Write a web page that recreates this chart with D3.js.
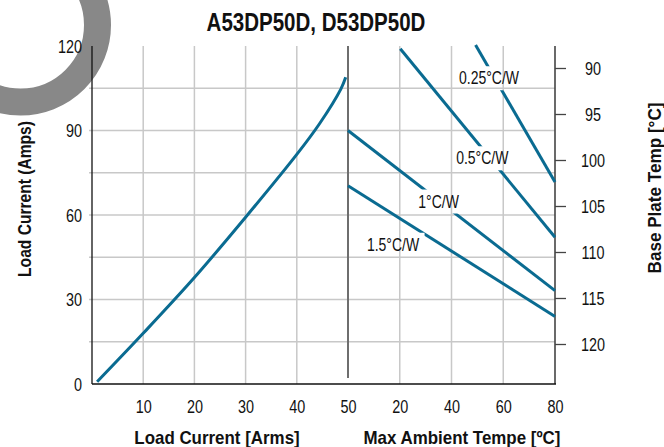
<!DOCTYPE html>
<html lang="en">
<head>
<meta charset="utf-8">
<title>A53DP50D, D53DP50D</title>
<script src="https://d3js.org/d3.v7.min.js"></script>
<style>
    body { margin: 0; background: white; }
    svg { font-family: "Liberation Sans", Arial, sans-serif; }
    .grid line { stroke: #c8c8c8; stroke-width: 1.5; }
    .tick-label { font-size: 18px; fill: #111; }
    .axis-title { font-size: 19px; font-weight: bold; fill: #111; }
    .rating { fill: none; stroke: #0a6b91; stroke-width: 3; }
    .rating-label { font-size: 17.5px; fill: #111; }
</style>
</head>
<body>
<script>
    var W = 664, H = 447;

    // left panel: load current derating curve
    var loadCurve = [[1, 0.8], [10, 18], [20, 37.8], [30, 59.2], [40, 81.5], [44.4, 92.3], [48.6, 104.7], [49.55, 108.9]];
    var ampTicks = [0, 30, 60, 90, 120];
    var ampGrid = [15, 30, 45, 60, 75, 90, 105];
    var loadTicks = [10, 20, 30, 40, 50];
    var loadGrid = [10, 20, 30, 40];

    // right panel: base plate temp vs ambient for each heatsink rating
    var ratings = ["0.25°C/W", "0.5°C/W", "1°C/W", "1.5°C/W"];
    var ratingStart = [[49.3, 87.5], [20.2, 87.9], [0, 96.8], [0, 102.8]];
    var ratingEnd = [[80, 102.4], [80, 108.4], [80, 114.2], [80, 117]];
    var ratingLabelAt = [[54.5, 91.1], [51.9, 99.8], [35, 104.5], [17.4, 109.2]];
    var ambientTicks = [20, 40, 60, 80];
    var ambientGrid = [20, 40, 60];
    var tempTicks = [90, 95, 100, 105, 110, 115, 120];

    var plotTop = 46, plotBottom = 384, plotLeft = 92, plotMid = 348, plotRight = 555;

    var xLoad = d3.scaleLinear().domain([0, 50]).range([plotLeft, plotMid]);
    var xAmb = d3.scaleLinear().domain([0, 80]).range([plotMid, plotRight]);
    var yAmp = d3.scaleLinear().domain([0, 120]).range([plotBottom, plotTop]);
    var yTemp = d3.scaleLinear().domain([90, 120]).range([68, 344]);

    // squeeze text horizontally to get the narrow datasheet face
    function condense(sel, k) {
        sel.each(function () {
            var w = this.getComputedTextLength();
            d3.select(this).attr("textLength", w * k).attr("lengthAdjust", "spacingAndGlyphs");
        });
    }

    var svg = d3.select("body").append("svg")
        .attr("width", W)
        .attr("height", H);

    // grey ring in the corner
    svg.append("circle")
        .attr("cx", 20.5).attr("cy", 25).attr("r", 77)
        .attr("fill", "none")
        .attr("stroke", "#888888")
        .attr("stroke-width", 27);

    // grid
    var grid = svg.append("g").attr("class", "grid");
    grid.selectAll("line.h").data(ampGrid).enter().append("line")
        .attr("x1", plotLeft - 3).attr("x2", plotRight)
        .attr("y1", d => yAmp(d)).attr("y2", d => yAmp(d));
    grid.selectAll("line.vl").data(loadGrid).enter().append("line")
        .attr("x1", d => xLoad(d)).attr("x2", d => xLoad(d))
        .attr("y1", plotTop).attr("y2", plotBottom);
    grid.selectAll("line.vr").data(ambientGrid).enter().append("line")
        .attr("x1", d => xAmb(d)).attr("x2", d => xAmb(d))
        .attr("y1", plotTop).attr("y2", plotBottom);

    // frame
    svg.append("line").attr("x1", plotMid).attr("x2", plotMid).attr("y1", plotTop).attr("y2", plotBottom - 6)
        .attr("stroke", "#6e6e6e").attr("stroke-width", 2);
    svg.append("line").attr("x1", plotLeft).attr("x2", plotLeft).attr("y1", plotTop).attr("y2", plotBottom)
        .attr("stroke", "#111").attr("stroke-width", 1.3);
    svg.append("line").attr("x1", plotRight).attr("x2", plotRight).attr("y1", plotTop).attr("y2", plotBottom)
        .attr("stroke", "#444").attr("stroke-width", 1.6);
    svg.append("line").attr("x1", plotLeft).attr("x2", plotRight + 1).attr("y1", plotBottom).attr("y2", plotBottom)
        .attr("stroke", "#111").attr("stroke-width", 1.5);

    // axes
    var ampAxis = svg.append("g")
        .attr("transform", `translate(${plotLeft - 10},0)`)
        .call(d3.axisLeft(yAmp).tickValues(ampTicks).tickSize(0).tickPadding(0));
    var loadAxis = svg.append("g")
        .attr("transform", `translate(0,${plotBottom + 16})`)
        .call(d3.axisBottom(xLoad).tickValues(loadTicks).tickSize(0).tickPadding(0));
    var ambAxis = svg.append("g")
        .attr("transform", `translate(0,${plotBottom + 16})`)
        .call(d3.axisBottom(xAmb).tickValues(ambientTicks).tickSize(0).tickPadding(0));
    var tempAxis = svg.append("g")
        .attr("transform", `translate(${plotRight},0)`)
        .call(d3.axisRight(yTemp).tickValues(tempTicks).tickSize(11).tickPadding(0));

    [ampAxis, loadAxis, ambAxis, tempAxis].forEach(function (a) {
        a.select(".domain").remove();
        a.attr("font-family", null).attr("font-size", null);
        a.selectAll("text").attr("class", "tick-label").attr("fill", null);
    });
    ampAxis.selectAll("text").attr("dy", "0.35em");
    loadAxis.selectAll("text").attr("dy", "0.71em");
    ambAxis.selectAll("text").attr("dy", "0.71em");
    tempAxis.selectAll("line").attr("stroke", "#444").attr("stroke-width", 1.3);
    tempAxis.selectAll("text").attr("x", 38).attr("text-anchor", "middle").attr("dy", "0.35em");

    // load current curve
    var line = d3.line()
        .x(d => xLoad(d[0]))
        .y(d => yAmp(d[1]))
        .curve(d3.curveCatmullRom);
    svg.append("path")
        .datum(loadCurve)
        .attr("class", "rating")
        .attr("d", line);

    // rating labels, with a mask so the lines stop short of them
    var labels = svg.append("g");
    labels.selectAll("text").data(ratings).enter().append("text")
        .attr("class", "rating-label")
        .attr("text-anchor", "middle")
        .attr("dy", "0.35em")
        .attr("x", (d, i) => xAmb(ratingLabelAt[i][0]))
        .attr("y", (d, i) => yTemp(ratingLabelAt[i][1]))
        .text(d => d);

    // titles
    var title = svg.append("text")
        .attr("x", 316).attr("y", 31)
        .attr("text-anchor", "middle")
        .attr("font-size", 25).attr("font-weight", "bold").attr("fill", "#111")
        .text("A53DP50D, D53DP50D");

    var bottomTitles = svg.append("g");
    bottomTitles.append("text").attr("class", "axis-title")
        .attr("x", 217).attr("y", 444).attr("text-anchor", "middle")
        .text("Load Current [Arms]");
    bottomTitles.append("text").attr("class", "axis-title")
        .attr("x", 462).attr("y", 444).attr("text-anchor", "middle")
        .text("Max Ambient Tempe [ºC]");
    var leftTitle = svg.append("text").attr("class", "axis-title")
        .attr("font-size", 18)
        .attr("transform", "translate(31,199) rotate(-90)")
        .attr("text-anchor", "middle")
        .text("Load Current (Amps)");
    var rightTitle = svg.append("text").attr("class", "axis-title")
        .attr("transform", "translate(661,188) rotate(-90)")
        .attr("text-anchor", "middle")
        .text("Base Plate Temp [°C]");

    condense(svg.selectAll(".tick-label"), 0.8);
    condense(labels.selectAll("text"), 0.8);
    condense(title, 0.82);
    condense(bottomTitles.selectAll("text"), 0.89);
    condense(leftTitle, 0.82);
    condense(rightTitle, 0.9);

    var mask = svg.append("defs").append("mask").attr("id", "label-gap")
        .attr("maskUnits", "userSpaceOnUse")
        .attr("x", 0).attr("y", 0).attr("width", W).attr("height", H);
    mask.append("rect").attr("width", W).attr("height", H).attr("fill", "white");
    labels.selectAll("text").each(function () {
        var b = this.getBBox();
        mask.append("rect")
            .attr("x", b.x - 5).attr("y", b.y - 2)
            .attr("width", b.width + 10).attr("height", b.height + 4)
            .attr("fill", "black");
    });

    svg.append("g")
        .attr("mask", "url(#label-gap)")
        .selectAll("line").data(ratings).enter().append("line")
        .attr("class", "rating")
        .attr("x1", (d, i) => xAmb(ratingStart[i][0]))
        .attr("y1", (d, i) => yTemp(ratingStart[i][1]))
        .attr("x2", (d, i) => xAmb(ratingEnd[i][0]))
        .attr("y2", (d, i) => yTemp(ratingEnd[i][1]));
</script>
</body>
</html>
